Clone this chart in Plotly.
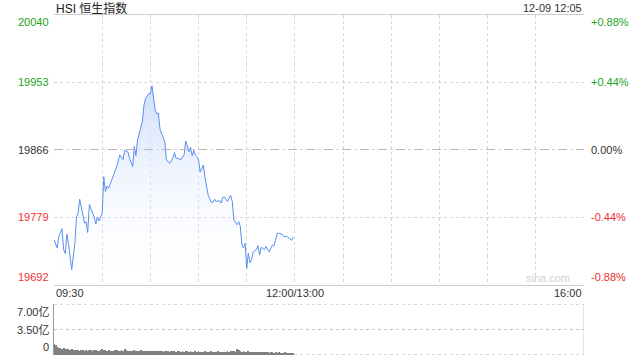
import plotly.graph_objects as go

# ---------------- data ----------------
times = ["09:30", "09:32", "09:33", "09:35", "09:36", "09:37", "09:38", "09:39", "09:41", "09:42",
         "09:43", "09:44", "09:45", "09:46", "09:48", "09:49", "09:50", "09:51", "09:52", "09:54",
         "09:55", "09:56", "09:57", "09:58", "10:00", "10:01", "10:02", "10:03", "10:04", "10:06",
         "10:07", "10:09", "10:11", "10:12", "10:13", "10:14", "10:16", "10:17", "10:19", "10:20",
         "10:21", "10:22", "10:24", "10:25", "10:26", "10:27", "10:29", "10:30", "10:31", "10:32",
         "10:33", "10:34", "10:35", "10:36", "10:37", "10:39", "10:40", "10:41", "10:42", "10:44",
         "10:45", "10:46", "10:48", "10:49", "10:51", "10:52", "10:53", "10:54", "10:55", "10:56",
         "10:57", "10:58", "10:59", "11:00", "11:01", "11:03", "11:04", "11:05", "11:06", "11:08",
         "11:09", "11:10", "11:11", "11:13", "11:14", "11:15", "11:16", "11:18", "11:19", "11:20",
         "11:21", "11:22", "11:24", "11:25", "11:26", "11:27", "11:28", "11:29", "11:30", "11:31",
         "11:32", "11:33", "11:34", "11:36", "11:37", "11:38", "11:39", "11:41", "11:42", "11:44",
         "11:46", "11:47", "11:49", "11:50", "11:52", "11:53", "11:55", "11:57", "11:58", "11:59"]
prices = [19750, 19739, 19754, 19764, 19737, 19732, 19757, 19745, 19711, 19726,
          19745, 19779, 19784, 19802, 19779, 19771, 19773, 19759, 19795, 19784,
          19779, 19770, 19779, 19774, 19784, 19831, 19812, 19819, 19816, 19827,
          19832, 19844, 19859, 19855, 19853, 19865, 19863, 19855, 19844, 19870,
          19858, 19878, 19896, 19902, 19923, 19932, 19938, 19938, 19948, 19934,
          19917, 19912, 19913, 19892, 19886, 19876, 19853, 19850, 19848, 19855,
          19862, 19855, 19853, 19853, 19859, 19877, 19871, 19863, 19869, 19858,
          19865, 19859, 19857, 19853, 19837, 19846, 19830, 19816, 19807, 19798,
          19798, 19802, 19799, 19800, 19797, 19804, 19805, 19799, 19804, 19807,
          19799, 19775, 19769, 19773, 19767, 19743, 19739, 19745, 19713, 19732,
          19720, 19724, 19734, 19737, 19742, 19730, 19740, 19737, 19741, 19734,
          19743, 19742, 19758, 19758, 19757, 19754, 19754, 19750, 19749, 19753]

# volume per minute from 09:30 (unit: 亿)
volumes = [1.55, 1.30, 1.05, 0.95, 0.90, 0.80, 0.95, 0.80, 0.75, 0.80,
           0.70, 0.75, 0.70, 0.65, 0.70, 0.65, 0.60, 0.70, 0.65, 0.60,
           0.65, 0.60, 0.70, 0.65, 0.60, 0.65, 0.70, 0.60, 0.55, 0.65,
           0.75, 0.70, 0.65, 0.60, 0.65, 0.60, 0.55, 0.60, 0.70, 0.65,
           0.60, 0.55, 0.65, 0.60, 0.80, 0.70, 0.60, 0.55, 0.60, 0.55,
           0.65, 0.60, 0.55, 0.60, 0.65, 0.55, 0.50, 0.60, 0.55, 0.50,
           0.55, 0.60, 0.50, 0.55, 0.50, 0.60, 0.55, 0.50, 0.45, 0.55,
           0.50, 0.55, 0.45, 0.50, 0.55, 0.50, 0.45, 0.50, 0.55, 0.45,
           0.50, 0.45, 0.55, 0.50, 0.45, 0.50, 0.45, 0.40, 0.50, 0.45,
           0.50, 0.45, 0.40, 0.45, 0.50, 0.45, 0.40, 0.45, 0.50, 0.40,
           0.45, 0.40, 0.50, 0.45, 0.40, 0.45, 0.40, 0.45, 0.50, 0.45,
           0.55, 0.60, 0.50, 0.45, 0.75, 0.65, 0.55, 0.45, 0.50, 0.40,
           0.45, 0.50, 0.40, 0.45, 0.40, 0.35, 0.45, 0.40, 0.35, 0.40,
           0.45, 0.35, 0.40, 0.35, 0.30, 0.40, 0.35, 0.30, 0.35, 0.30,
           0.35, 0.30, 0.25, 0.30, 0.35, 0.25, 0.30, 0.25, 0.20, 0.25]

prev_close = 19866
price_ticks = [20040, 19953, 19866, 19779, 19692]
pct_labels = ["+0.88%", "+0.44%", "0.00%", "-0.44%", "-0.88%"]
vol_ticks = [7.0, 3.5, 0]
vol_labels = ["7.00亿", "3.50亿", "0"]
x_ticks = ["09:30", "12:00/13:00", "16:00"]
title = "HSI 恒生指数"
stamp = "12-09 12:05"

assert len(times) == len(prices)


def minute_index(s):
    h, m = map(int, s.split(":"))
    t = h * 60 + m
    return t - 570 if t <= 720 else t - 780 + 150


xs = [minute_index(t) for t in times]
vol_x = list(range(len(volumes)))
x_tick_pos = [minute_index("09:30"), minute_index("12:00"), minute_index("16:00")]

W, H = 640, 360
L, R = 54, 584
MT, MB = 14.5, 284.5
VT, VB = 304, 355
FONT = "Liberation Sans, Arial, Noto Sans CJK SC, sans-serif"
GREEN = "#1aa51a"
RED = "#f03030"
DARK = "#333333"


def tick_color(v):
    if v > prev_close:
        return GREEN
    if v < prev_close:
        return RED
    return DARK


fig = go.Figure()
fig.add_trace(go.Scatter(
    x=xs, y=prices, mode="lines",
    line=dict(color="#5b8ef0", width=1),
    fill="tozeroy",
    fillgradient=dict(type="vertical",
                      colorscale=[[0, "rgba(255,255,255,0)"], [1, "rgba(200,218,250,0.9)"]],
                      start=price_ticks[-1], stop=max(prices)),
    hoverinfo="skip",
))
fig.add_trace(go.Bar(
    x=vol_x, y=volumes, xaxis="x2", yaxis="y2",
    marker=dict(color="#808080", line=dict(width=0)), width=0.5,
    hoverinfo="skip",
))

grid = dict(showgrid=True, griddash="dot", gridcolor="#d4d4d4", gridwidth=1,
            zeroline=False, ticks="", showticklabels=False)

fig.update_layout(
    width=W, height=H, margin=dict(l=0, r=0, t=0, b=0),
    paper_bgcolor="white", plot_bgcolor="white", showlegend=False,
    font=dict(family=FONT, size=11, color=DARK),
    bargap=0,
    xaxis=dict(domain=[L / W, R / W], range=[0, 330], tickvals=list(range(0, 331, 30)),
               showline=True, mirror=True, linecolor="#cccccc", linewidth=1, **grid),
    yaxis=dict(domain=[1 - MB / H, 1 - MT / H], range=[price_ticks[-1], price_ticks[0]],
               tickvals=price_ticks, showline=False, **grid),
    xaxis2=dict(domain=[L / W, R / W], range=[0, 330], anchor="y2", showgrid=False,
                zeroline=False, showticklabels=False, ticks="", showline=False),
    yaxis2=dict(domain=[1 - VB / H, 1 - VT / H], range=[-0.02, 7.02], anchor="x2",
                showgrid=False, zeroline=False, ticks="", showticklabels=False,
                showline=True, linecolor="#999999", linewidth=1),
)

# dashed previous close line
fig.add_shape(type="line", xref="x", yref="y", x0=0, x1=330, y0=prev_close, y1=prev_close,
              line=dict(color="#b8b8b8", width=1, dash="dash"))
# right border of volume panel
fig.add_shape(type="line", xref="x2", yref="y2", x0=330, x1=330, y0=0, y1=7,
              line=dict(color="#cccccc", width=1))
# dotted volume grid lines
for v in vol_ticks:
    fig.add_shape(type="line", xref="x2", yref="y2", x0=0, x1=330, y0=v, y1=v,
                  line=dict(color="#c4c4c4", width=1, dash="dot"), layer="below")

ann = []
for i, (v, p) in enumerate(zip(price_ticks, pct_labels)):
    ya = "top" if i == 0 else ("bottom" if i == len(price_ticks) - 1 else "middle")
    c = tick_color(v)
    ann.append(dict(x=(L - 3) / W, xref="paper", y=v, yref="y", text=str(v), showarrow=False,
                    xanchor="right", yanchor=ya, font=dict(size=11, color=c)))
    ann.append(dict(x=(R + 5) / W, xref="paper", y=v, yref="y", text=p, showarrow=False,
                    xanchor="left", yanchor=ya, font=dict(size=11, color=c)))
for i, (v, t) in enumerate(zip(vol_ticks, vol_labels)):
    ya = "top" if i == 0 else ("bottom" if i == len(vol_ticks) - 1 else "middle")
    ann.append(dict(x=(L - 3) / W, xref="paper", y=v, yref="y2", text=t, showarrow=False,
                    xanchor="right", yanchor=ya, font=dict(size=11, color=DARK)))
for pos, t, xa in zip(x_tick_pos, x_ticks, ["left", "center", "right"]):
    ann.append(dict(x=pos, xref="x", y=1 - 293 / H, yref="paper", text=t, showarrow=False,
                    xanchor=xa, yanchor="middle", font=dict(size=11, color=DARK)))
ann.append(dict(x=L / W, xref="paper", y=1 - 8 / H, yref="paper", text=title, showarrow=False,
                xanchor="left", yanchor="middle", font=dict(size=12, color="#222222")))
ann.append(dict(x=R / W, xref="paper", y=1 - 8 / H, yref="paper", text=stamp, showarrow=False,
                xanchor="right", yanchor="middle", font=dict(size=11, color=DARK)))
ann.append(dict(x=(R - 12) / W, xref="paper", y=1 - 278 / H, yref="paper", text="sina.com",
                showarrow=False, xanchor="right", yanchor="middle",
                font=dict(size=11, color="#cfcfcf")))
fig.update_layout(annotations=ann)

fig.write_html("out.html")
